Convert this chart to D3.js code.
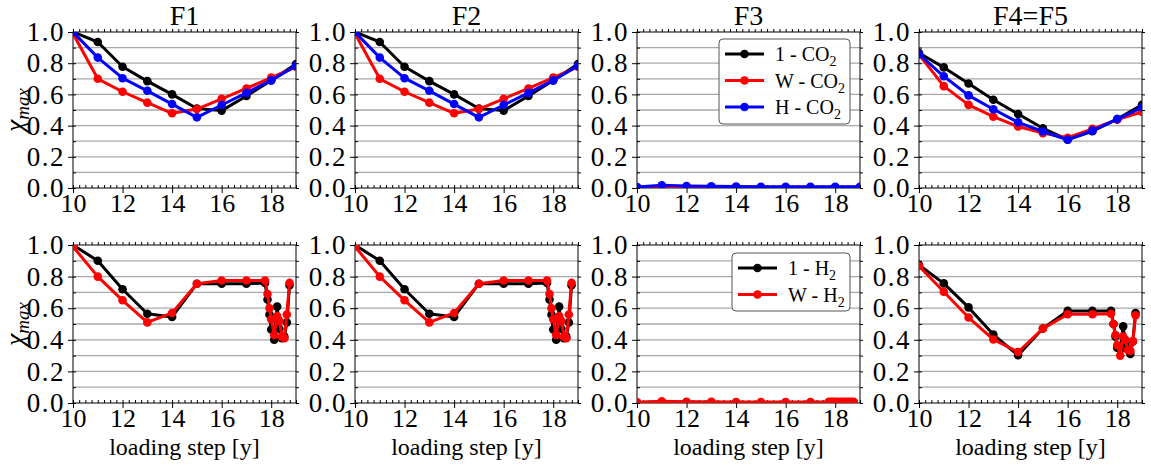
<!DOCTYPE html>
<html>
<head>
<meta charset="utf-8">
<script src="https://cdn.jsdelivr.net/npm/d3@7"></script>
<style>
  body { margin: 0; background: #fff; }
  svg text { font-family: "Liberation Serif", "Times New Roman", Times, serif !important; fill: #000; }
</style>
</head>
<body>
<div class="container"></div>
<script>
const width = 1151,
    height = 466,
    plotW = 223;

// x positions (loading step) for the two rows
const xTop = [10, 11, 12, 13, 14, 15, 16, 17, 18, 19];
const xBot = [10, 11, 12, 13, 14, 15, 16, 17, 17.75, 17.85, 17.93, 18.0, 18.12, 18.24, 18.33, 18.43, 18.53, 18.63, 18.74];

// CO2 row
const f1Top1 = [1.0, 0.936, 0.777, 0.685, 0.60, 0.51, 0.496, 0.59, 0.69, 0.795];
const f1TopW = [0.99, 0.70, 0.617, 0.547, 0.479, 0.506, 0.572, 0.638, 0.708, 0.777];
const f1TopH = [1.0, 0.836, 0.704, 0.623, 0.538, 0.453, 0.532, 0.61, 0.69, 0.783];
const f2Top1 = f1Top1, f2TopW = f1TopW, f2TopH = f1TopH;
const f3Top1 = [0.003, 0.006, 0.005, 0.004, 0.004, 0.003, 0.003, 0.003, 0.003, 0.003];
const f3TopW = [0.004, 0.009, 0.007, 0.006, 0.005, 0.005, 0.005, 0.005, 0.005, 0.005];
const f3TopH = [0.006, 0.018, 0.013, 0.011, 0.009, 0.008, 0.008, 0.008, 0.008, 0.008];
const f4Top1 = [0.865, 0.773, 0.67, 0.566, 0.474, 0.383, 0.31, 0.364, 0.442, 0.533];
const f4TopW = [0.855, 0.653, 0.533, 0.457, 0.394, 0.352, 0.322, 0.379, 0.438, 0.488];
const f4TopH = [0.857, 0.716, 0.594, 0.505, 0.421, 0.362, 0.309, 0.368, 0.442, 0.516];

// H2 row
const f1Bot1 = [1.0, 0.90, 0.72, 0.565, 0.545, 0.755, 0.755, 0.755, 0.76, 0.655, 0.56, 0.465, 0.40, 0.61, 0.47, 0.41, 0.42, 0.51, 0.745];
const f1BotW = [0.99, 0.80, 0.65, 0.51, 0.57, 0.755, 0.775, 0.775, 0.775, 0.69, 0.60, 0.53, 0.43, 0.55, 0.52, 0.42, 0.41, 0.56, 0.76];
const f2Bot1 = f1Bot1, f2BotW = f1BotW;
const f3Bot1 = [0.003, 0.005, 0.004, 0.004, 0.003, 0.003, 0.003, 0.003, 0.004, 0.004, 0.004, 0.004, 0.004, 0.004, 0.004, 0.004, 0.004, 0.004, 0.004];
const f3BotW = [0.004, 0.011, 0.008, 0.007, 0.006, 0.006, 0.006, 0.006, 0.007, 0.007, 0.007, 0.007, 0.007, 0.007, 0.007, 0.007, 0.007, 0.007, 0.007];
const f4Bot1 = [0.873, 0.757, 0.605, 0.433, 0.302, 0.471, 0.583, 0.583, 0.583, 0.50, 0.42, 0.35, 0.34, 0.485, 0.38, 0.34, 0.31, 0.39, 0.57];
const f4BotW = [0.867, 0.704, 0.541, 0.402, 0.323, 0.471, 0.562, 0.562, 0.565, 0.50, 0.43, 0.365, 0.30, 0.42, 0.40, 0.335, 0.33, 0.39, 0.555];

const titles = ["F1", "F2", "F3", "F4=F5"];
const yTicks = [0, 0.2, 0.4, 0.6, 0.8, 1.0];
const xTicks = [10, 12, 14, 16, 18];
const co2Labels = ["1 - CO", "W - CO", "H - CO"];
const h2Labels = ["1 - H", "W - H"];
const colors = ["#000000", "#ff0000", "#0000ff"];

const colLeft = [73, 355, 637, 919];
const rows = [
  { top: 32, bottom: 188, x: xTop, series: [[f1Top1, f1TopW, f1TopH], [f2Top1, f2TopW, f2TopH], [f3Top1, f3TopW, f3TopH], [f4Top1, f4TopW, f4TopH]] },
  { top: 245, bottom: 403, x: xBot, series: [[f1Bot1, f1BotW], [f2Bot1, f2BotW], [f3Bot1, f3BotW], [f4Bot1, f4BotW]] }
];

const svg = d3.select(".container").append("svg")
    .attr("width", width)
    .attr("height", height);

const drawPanel = (row, r, c) => {
  const x = d3.scaleLinear().domain([10, 19]).range([colLeft[c], colLeft[c] + plotW]);
  const y = d3.scaleLinear().domain([0, 1]).range([row.bottom, row.top]);
  const g = svg.append("g");
  const clipId = `clip-${r}-${c}`;

  g.append("clipPath").attr("id", clipId)
    .append("rect")
    .attr("x", x(10)).attr("y", y(1))
    .attr("width", x(19) - x(10)).attr("height", y(0) - y(1));

  // horizontal grid every 0.1
  g.append("g")
    .selectAll("line")
    .data(d3.range(1, 10).map(d => d / 10))
    .join("line")
    .attr("x1", x(10)).attr("x2", x(19))
    .attr("y1", d => y(d)).attr("y2", d => y(d))
    .attr("stroke", "#a8a8a8")
    .attr("stroke-width", 1.3);

  // minor ticks
  const minorX = d3.range(10, 19.01, 0.25);
  const minorY = d3.range(0, 1.001, 0.1);
  g.append("g").attr("transform", `translate(0,${y(0)})`)
    .call(d3.axisBottom(x).tickValues(minorX).tickSize(-3).tickFormat(""))
    .call(a => a.select(".domain").remove());
  g.append("g").attr("transform", `translate(0,${y(1)})`)
    .call(d3.axisTop(x).tickValues(minorX).tickSize(3).tickFormat(""))
    .call(a => a.select(".domain").remove());
  g.append("g").attr("transform", `translate(${x(10)},0)`)
    .call(d3.axisLeft(y).tickValues(minorY).tickSize(-3).tickFormat(""))
    .call(a => a.select(".domain").remove());
  g.append("g").attr("transform", `translate(${x(19)},0)`)
    .call(d3.axisRight(y).tickValues(minorY).tickSize(3).tickFormat(""))
    .call(a => a.select(".domain").remove());

  // major axes
  g.append("g").attr("transform", `translate(0,${y(0)})`)
    .call(d3.axisBottom(x).tickValues(xTicks).tickSize(5).tickPadding(1).tickFormat(d3.format("d")))
    .call(a => a.select(".domain").remove())
    .call(a => a.selectAll("text").style("font-size", "26px"));
  g.append("g").attr("transform", `translate(${x(10)},0)`)
    .call(d3.axisLeft(y).tickValues(yTicks).tickSize(5).tickPadding(3).tickFormat(d3.format(".1f")))
    .call(a => a.select(".domain").remove())
    .call(a => a.selectAll("text").style("font-size", "27px").attr("letter-spacing", 1.5));

  // frame
  g.append("rect")
    .attr("x", x(10)).attr("y", y(1))
    .attr("width", x(19) - x(10)).attr("height", y(0) - y(1))
    .attr("fill", "none").attr("stroke", "#000").attr("stroke-width", 1);

  // series
  const line = d3.line().x((d, i) => x(row.x[i])).y(d => y(d));
  const plot = g.append("g").attr("clip-path", `url(#${clipId})`);
  row.series[c].forEach((vals, k) => {
    plot.append("path")
      .datum(vals)
      .attr("d", line)
      .attr("fill", "none")
      .attr("stroke", colors[k])
      .attr("stroke-width", 3)
      .attr("stroke-linejoin", "round");
    plot.append("g")
      .selectAll("circle")
      .data(vals)
      .join("circle")
      .attr("cx", (d, i) => x(row.x[i]))
      .attr("cy", d => y(d))
      .attr("r", 4.3)
      .attr("fill", colors[k]);
  });

  if (r === 0) {
    svg.append("text")
      .attr("x", (x(10) + x(19)) / 2).attr("y", 25)
      .attr("text-anchor", "middle")
      .style("font-size", "28px")
      .text(titles[c]);
  } else {
    svg.append("text")
      .attr("x", (x(10) + x(19)) / 2).attr("y", 455)
      .attr("text-anchor", "middle")
      .style("font-size", "24px")
      .text("loading step [y]");
  }

  if (c === 0) {
    const t = svg.append("text")
      .attr("transform", `translate(24,${(y(0) + y(1)) / 2}) rotate(-90)`)
      .attr("text-anchor", "middle")
      .style("font-style", "italic");
    t.append("tspan").style("font-size", "28px").text("χ");
    t.append("tspan").style("font-size", "19px").attr("dy", 5).text("max");
  }
};

const drawLegend = (x0, y0, w, h, labels, sub) => {
  const lg = svg.append("g");
  lg.append("rect")
    .attr("x", x0).attr("y", y0).attr("width", w).attr("height", h)
    .attr("rx", 4).attr("fill", "#fff").attr("fill-opacity", 0.95)
    .attr("stroke", "#555").attr("stroke-width", 1);
  labels.forEach((lab, k) => {
    const yy = y0 + 15 + k * 26.5;
    lg.append("line")
      .attr("x1", x0 + 6).attr("x2", x0 + 45)
      .attr("y1", yy).attr("y2", yy)
      .attr("stroke", colors[k]).attr("stroke-width", 3);
    lg.append("circle")
      .attr("cx", x0 + 25.5).attr("cy", yy).attr("r", 4.3)
      .attr("fill", colors[k]);
    const t = lg.append("text")
      .attr("x", x0 + 56).attr("y", yy + 7)
      .style("font-size", "20px");
    t.append("tspan").text(lab);
    t.append("tspan").style("font-size", "14px").attr("dy", 5).text(sub);
  });
};

rows.forEach((row, r) => {
  colLeft.forEach((_, c) => drawPanel(row, r, c));
});

drawLegend(719, 39, 131, 85, co2Labels, "2");
drawLegend(732, 253, 118, 58, h2Labels, "2");
</script>
</body>
</html>
